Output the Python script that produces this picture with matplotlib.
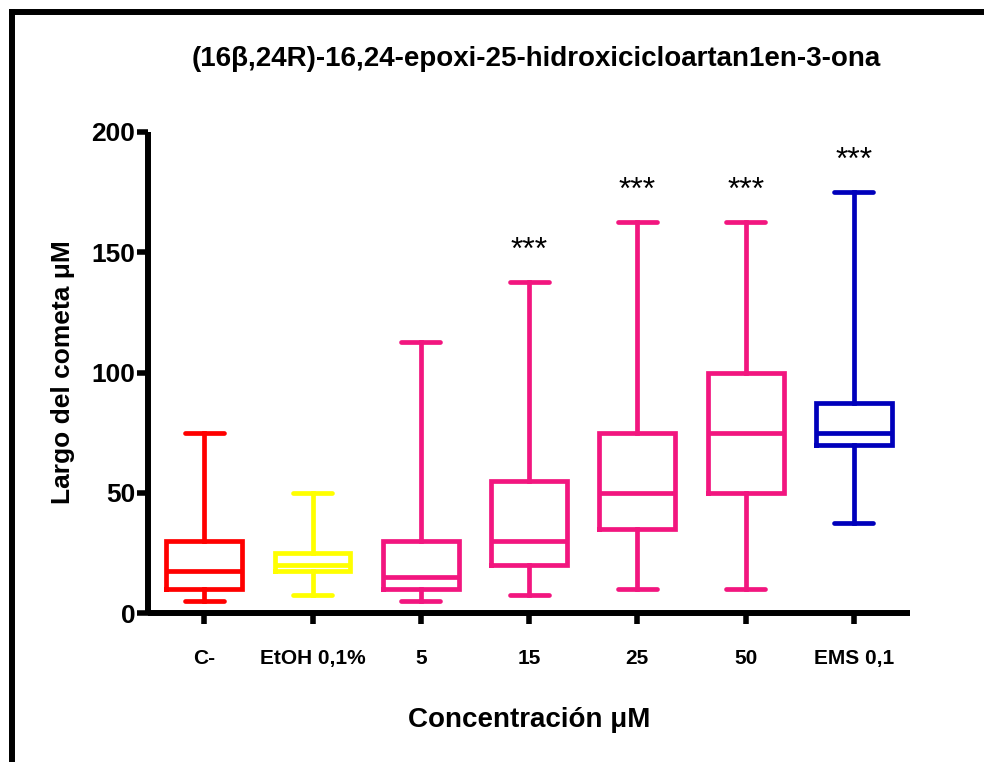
import matplotlib
matplotlib.use('Agg')
import matplotlib.pyplot as plt
from matplotlib.lines import Line2D

plt.rcParams['font.family'] = ['Liberation Sans', 'DejaVu Sans']
plt.rcParams['font.weight'] = 'bold'
plt.rcParams['axes.labelweight'] = 'bold'

# comet length per treatment (box = quartiles, whiskers = min/max)
labels = ['C-', 'EtOH 0,1%', '5', '15', '25', '50', 'EMS 0,1']
whislo = [5, 7.5, 5, 7.5, 10, 10, 37.5]
q1 = [10, 17.5, 10, 20, 35, 50, 70]
med = [17.5, 20, 15, 30, 50, 75, 75]
q3 = [30, 25, 30, 55, 75, 100, 87.5]
whishi = [75, 50, 112.5, 137.5, 162.5, 162.5, 175]
signif = ['', '', '', '***', '***', '***', '***']
colors = ['#FF0000', '#FFFF00', '#F2167F', '#F2167F', '#F2167F', '#F2167F', '#0000BB']

fig = plt.figure(figsize=(9.84, 7.62), dpi=100)
ax = fig.add_axes([0.1504, 0.1955, 0.7746, 0.6313])

stats = []
for i in range(len(labels)):
    stats.append({'label': labels[i], 'whislo': whislo[i], 'q1': q1[i], 'med': med[i],
                  'q3': q3[i], 'whishi': whishi[i], 'fliers': []})

bp = ax.bxp(stats, positions=range(len(labels)), widths=0.7, showfliers=False,
            patch_artist=False, manage_ticks=False)
lw = 3.4
for i, c in enumerate(colors):
    bp['boxes'][i].set(color=c, linewidth=lw, solid_joinstyle='miter')
    bp['medians'][i].set(color=c, linewidth=lw)
    for w in bp['whiskers'][2 * i:2 * i + 2]:
        w.set(color=c, linewidth=lw)
    for cap in bp['caps'][2 * i:2 * i + 2]:
        cap.set(color=c, linewidth=lw, solid_capstyle='round')
        x = cap.get_xdata()
        mid = (x[0] + x[1]) / 2
        cap.set_xdata([mid - 0.18, mid + 0.18])

for i, s in enumerate(signif):
    if s:
        ax.text(i, whishi[i] + 13, s, ha='center', va='center', fontsize=23,
                fontweight='normal', color='black')

ax.set_xlim(-0.52, 6.52)
ax.set_ylim(0, 200)
ax.set_yticks([0, 50, 100, 150, 200])
ax.set_xticks(range(len(labels)))
ax.set_xticklabels(labels)
ax.tick_params(axis='both', width=4, length=8)
ax.tick_params(axis='x', pad=18, labelsize=15)
ax.tick_params(axis='y', pad=1, labelsize=19)
for side in ['top', 'right']:
    ax.spines[side].set_visible(False)
for side in ['left', 'bottom']:
    ax.spines[side].set_linewidth(4.3)
    ax.spines[side].set_capstyle('butt')

ax.set_xlabel('Concentración \u03bcM', fontsize=20, labelpad=28)
ax.set_ylabel('Largo del cometa \u03bcM', fontsize=19, labelpad=12)
fig.text(0.545, 0.922, '(16\u03b2,24R)-16,24-epoxi-25-hidroxicicloartan1en-3-ona',
         ha='center', va='center', fontsize=20)

# black frame along the top and left edges
fig.add_artist(Line2D([12 / 984, 12 / 984], [0, 1 - 9 / 762], color='black', linewidth=4.3,
                      solid_capstyle='butt', transform=fig.transFigure))
fig.add_artist(Line2D([9 / 984, 1], [1 - 12 / 762, 1 - 12 / 762], color='black', linewidth=4.3,
                      solid_capstyle='butt', transform=fig.transFigure))

fig.savefig('out.png', dpi=100)
